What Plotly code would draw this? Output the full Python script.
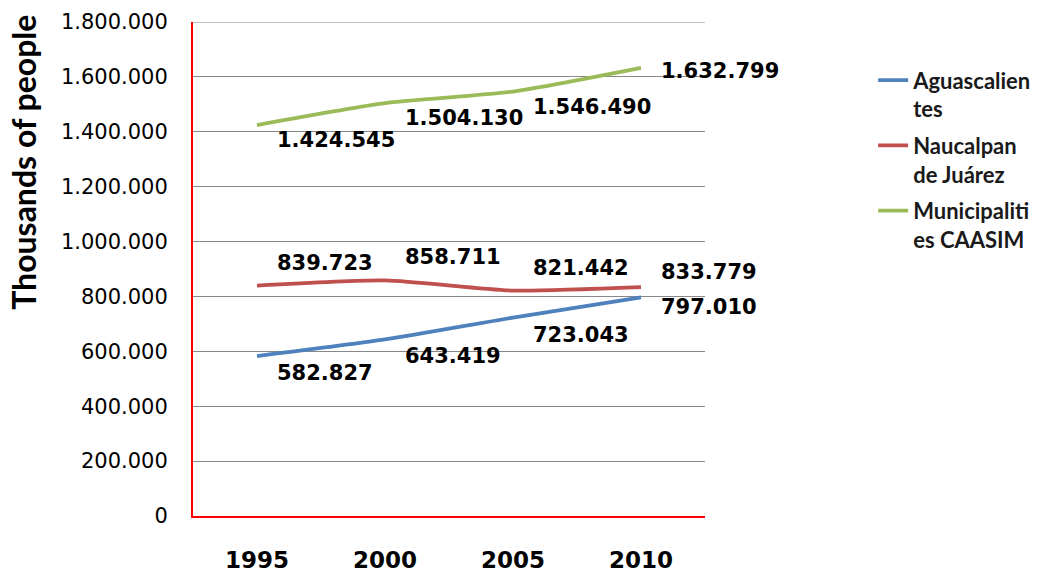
import plotly.graph_objects as go

# Population by municipality (thousands of people)
years = ["1995", "2000", "2005", "2010"]
aguascalientes = [582827, 643419, 723043, 797010]
naucalpan = [839723, 858711, 821442, 833779]
caasim = [1424545, 1504130, 1546490, 1632799]

series_names = ["Aguascalien<br>tes", "Naucalpan<br>de Juárez", "Municipaliti<br>es CAASIM"]
colors = ["#4F81BD", "#C0504D", "#9BBB59"]

y_max = 1800000
y_step = 200000

# vertical offset (px, downward) of the value labels per series: inner points, last point
label_dy = [(17, 10), (-23, -15), (15, 3)]

NUM_FONT = "'DejaVu Sans', sans-serif"
TXT_FONT = "Lato, 'DejaVu Sans', sans-serif"


def fmt(v):
    return f"{v:,}".replace(",", ".")


fig = go.Figure()
annotations = []
for k, (name, color, values, (dy_in, dy_last)) in enumerate(zip(
        series_names, colors, [aguascalientes, naucalpan, caasim], label_dy)):
    fig.add_trace(go.Scatter(
        x=years, y=values, name=name, mode="lines", legendgroup=f"g{k}",
        line=dict(color=color, width=3.8, shape="spline", smoothing=0.6),
    ))
    for i, v in enumerate(values):
        annotations.append(dict(
            x=i, y=v, xref="x", yref="y", text=fmt(v), showarrow=False,
            xanchor="left", yanchor="middle",
            xshift=18, yshift=-(dy_last if i == len(values) - 1 else dy_in),
            font=dict(family=NUM_FONT, size=21, color="#000000", weight="bold"),
        ))

annotations.append(dict(
    text="Thousands of people", textangle=-90, showarrow=False,
    xref="paper", yref="paper", x=-0.33, y=0.715,
    xanchor="center", yanchor="middle",
    font=dict(family=TXT_FONT, size=32, color="#000000", weight="bold"),
))

fig.update_layout(
    width=1037, height=576,
    margin=dict(l=193, r=332, t=22, b=60, autoexpand=False),
    paper_bgcolor="white", plot_bgcolor="white",
    showlegend=True,
    legend=dict(
        xref="container", yref="container",
        x=0.842, y=0.897, xanchor="left", yanchor="top",
        font=dict(family=TXT_FONT, size=22, color="#1a1a1a", weight="bold"),
        valign="top", tracegroupgap=5, itemwidth=30,
        bgcolor="rgba(0,0,0,0)",
    ),
    annotations=annotations,
    shapes=[dict(
        type="line", xref="paper", yref="y", x0=0, x1=1, y0=y_max, y1=y_max,
        line=dict(color="#888888", width=1), layer="below",
    )],
    xaxis=dict(
        type="category", showgrid=False, showline=True, linecolor="#FF0000",
        linewidth=2, ticks="", automargin=False,
        tickfont=dict(family=NUM_FONT, size=23, color="#000000", weight="bold"),
        ticklabelstandoff=22, range=[-0.5, 3.5],
    ),
    yaxis=dict(
        range=[0, y_max], tickvals=list(range(0, y_max + 1, y_step)),
        ticktext=[fmt(v) for v in range(0, y_max + 1, y_step)],
        showgrid=True, gridcolor="#888888", gridwidth=1, automargin=False,
        showline=True, linecolor="#FF0000", linewidth=2, zeroline=False,
        ticks="", tickfont=dict(family=NUM_FONT, size=21, color="#000000"),
        ticklabelstandoff=19,
    ),
)

fig.write_html("out.html")
